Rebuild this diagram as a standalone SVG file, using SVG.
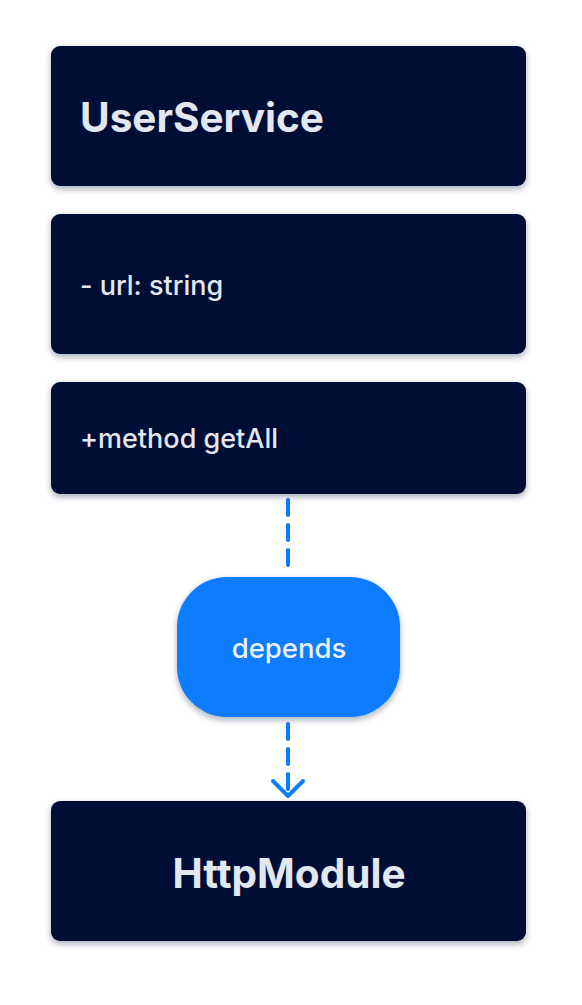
<svg xmlns="http://www.w3.org/2000/svg" width="582" height="1005" viewBox="0 0 582 1005">
  <defs>
    <filter id="sh" x="-10%" y="-20%" width="120%" height="150%">
      <feDropShadow dx="0" dy="3" stdDeviation="3" flood-color="#0b1b3f" flood-opacity="0.35"/>
    </filter>
    <style>
      .box { fill: #020f35; filter: url(#sh); }
      .pill { fill: #0a7cff; filter: url(#sh); }
      .title { font-family: Inter, "Liberation Sans", sans-serif; font-weight: 700; font-size: 40.5px; fill: #e2e8f0; }
      .member { font-family: Inter, "Liberation Sans", sans-serif; font-weight: 500; font-size: 27px; fill: #e2e8f0; }
      .lbl { font-family: Inter, "Liberation Sans", sans-serif; font-weight: 500; font-size: 27.5px; fill: #eaf2ff; }
      .edge { fill: none; stroke: #0a7cff; stroke-width: 4; stroke-dasharray: 15 10; stroke-linecap: round; }
      .head { fill: none; stroke: #0a7cff; stroke-width: 4; stroke-linecap: round; stroke-linejoin: round; }
    </style>
  </defs>
  <rect width="582" height="1005" fill="#ffffff"/>
  <g id="connectors">
    <path class="edge" d="M288 500 V572"/>
    <path class="edge" d="M288 724 V794"/>
    <path class="head" d="M273 781 L288 796 L303 781"/>
  </g>
  <g id="userservice">
    <rect class="box" x="51" y="46" width="475" height="140" rx="9"/>
    <text class="title" x="80" y="132">UserService</text>
  </g>
  <g id="attributes">
    <rect class="box" x="51" y="214" width="475" height="140" rx="9"/>
    <text class="member" x="80" y="295">- url: string</text>
  </g>
  <g id="methods">
    <rect class="box" x="51" y="382" width="475" height="112" rx="9"/>
    <text class="member" x="80" y="448">+method getAll</text>
  </g>
  <g id="depends">
    <rect class="pill" x="177" y="577" width="223" height="140" rx="50"/>
    <text class="lbl" x="289" y="658" text-anchor="middle">depends</text>
  </g>
  <g id="httpmodule">
    <rect class="box" x="51" y="801" width="475" height="140" rx="9"/>
    <text class="title" x="289" y="888" text-anchor="middle">HttpModule</text>
  </g>
</svg>
